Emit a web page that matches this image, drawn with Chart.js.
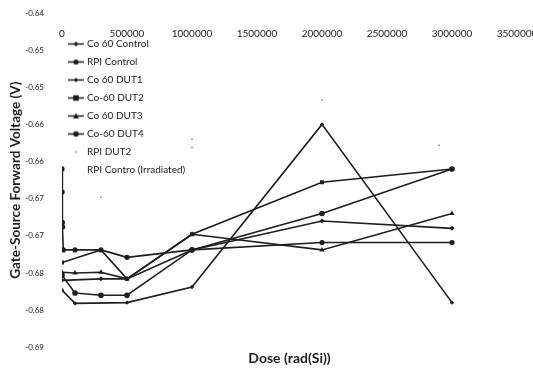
<!DOCTYPE html>
<html><head><meta charset="utf-8">
<script src="https://cdn.jsdelivr.net/npm/chart.js@4.4.0/dist/chart.umd.min.js"></script>
<style>html,body{margin:0;padding:0;background:#fff}#wrap{width:533px;height:370px;position:relative}</style>
</head><body><div id="wrap"><canvas id="c"></canvas></div>
<script>
// ---- data ----
const xTickValues = [0, 500000, 1000000, 1500000, 2000000, 2500000, 3000000, 3500000];
const yTickValues = [-0.64, -0.645, -0.65, -0.655, -0.66, -0.665, -0.67, -0.675, -0.68, -0.685];
const yTickLabels = ['-0.64', '-0.65', '-0.65', '-0.66', '-0.66', '-0.67', '-0.67', '-0.68', '-0.68', '-0.69'];
const seriesNames = ['Co 60 Control', 'RPI Control', 'Co 60 DUT1', 'Co-60 DUT2', 'Co 60 DUT3', 'Co-60 DUT4', 'RPI DUT2', 'RPI Contro (Irradiated)'];

const co60ControlX = [0, 300000, 500000, 1000000, 2000000, 3000000];
const co60ControlY = [-0.6760, -0.6758, -0.6758, -0.6719, -0.6680, -0.6690];

const rpiControlX = [0, 1000, 3000, 5000, 10000, 100000, 300000, 500000, 1000000, 2000000, 3000000];
const rpiControlY = [-0.6610, -0.6641, -0.6682, -0.6688, -0.6719, -0.6719, -0.6719, -0.6729, -0.6719, -0.6709, -0.6709];

const co60Dut1X = [0, 100000, 500000, 1000000, 2000000, 3000000];
const co60Dut1Y = [-0.6773, -0.6791, -0.6790, -0.6769, -0.6550, -0.6790];

const co60Dut2X = [0, 300000, 500000, 1000000, 2000000, 3000000];
const co60Dut2Y = [-0.6736, -0.6719, -0.6758, -0.6698, -0.6628, -0.6610];

const co60Dut3X = [0, 100000, 300000, 500000, 1000000, 2000000, 3000000];
const co60Dut3Y = [-0.6749, -0.6750, -0.6749, -0.6758, -0.6698, -0.6719, -0.6670];

const co60Dut4X = [0, 100000, 300000, 500000, 1000000, 2000000, 3000000];
const co60Dut4Y = [-0.6753, -0.6777, -0.6780, -0.6780, -0.6719, -0.6670, -0.6610];

const rpiDut2X = [300000, 1000000, 1000000, 2000000, 2900000];
const rpiDut2Y = [-0.6648, -0.6570, -0.6581, -0.6517, -0.6578];

const rpiIrrX = [];
const rpiIrrY = [];

// ---- build ----
const pts = (xs, ys) => xs.map((x, i) => ({x: x, y: ys[i]}));
const ink = '#1e1e1e';
const FONT = 'Lato, "Open Sans", sans-serif';

function icon(style, radius, line, color) {
  const c = document.createElement('canvas');
  c.width = 16; c.height = 9;
  const g = c.getContext('2d');
  g.strokeStyle = color; g.fillStyle = color; g.lineWidth = 1.5;
  if (line) { g.beginPath(); g.moveTo(0, 4.5); g.lineTo(16, 4.5); g.stroke(); }
  const cx = 8, cy = 4.5, r = radius;
  g.beginPath();
  if (style === 'circle') { g.arc(cx, cy, r, 0, Math.PI * 2); }
  else if (style === 'rect') { g.rect(cx - r, cy - r, 2 * r, 2 * r); }
  else if (style === 'rectRot') { g.moveTo(cx, cy - r); g.lineTo(cx + r, cy); g.lineTo(cx, cy + r); g.lineTo(cx - r, cy); g.closePath(); }
  else if (style === 'triangle') { g.moveTo(cx, cy - r); g.lineTo(cx + r, cy + r * 0.8); g.lineTo(cx - r, cy + r * 0.8); g.closePath(); }
  if (r > 0) g.fill();
  return c;
}

const styles = [
  {d: pts(co60ControlX, co60ControlY), ps: 'rectRot', r: 2.5, line: true, color: ink},
  {d: pts(rpiControlX, rpiControlY), ps: 'circle', r: 2.6, line: true, color: ink},
  {d: pts(co60Dut1X, co60Dut1Y), ps: 'rectRot', r: 2.2, line: true, color: ink},
  {d: pts(co60Dut2X, co60Dut2Y), ps: 'rect', r: 2.8, line: true, color: ink},
  {d: pts(co60Dut3X, co60Dut3Y), ps: 'triangle', r: 3, line: true, color: ink},
  {d: pts(co60Dut4X, co60Dut4Y), ps: 'circle', r: 2.8, line: true, color: ink},
  {d: pts(rpiDut2X, rpiDut2Y), ps: 'circle', r: 1, line: false, color: '#9a9a9a'},
  {d: pts(rpiIrrX, rpiIrrY), ps: 'circle', r: 0, line: false, color: 'rgba(0,0,0,0)'}
];

const icons = styles.map(s => icon(s.ps, s.r, s.line, s.color));

const datasets = styles.map((s, i) => ({
  label: seriesNames[i],
  data: s.d,
  showLine: s.line,
  borderColor: s.color,
  backgroundColor: s.color,
  borderWidth: 1.6,
  pointStyle: s.ps,
  pointRadius: s.r,
  pointBorderWidth: 0,
  tension: 0
}));

new Chart(document.getElementById('c'), {
  type: 'scatter',
  data: {datasets: datasets},
  options: {
    responsive: true,
    maintainAspectRatio: false,
    animation: false,
    layout: {padding: {top: 13, right: 16, left: 8, bottom: 0}},
    plugins: {
      tooltip: {enabled: false},
      legend: {
        position: 'chartArea',
        align: 'start',
        title: {display: true, text: '', font: {size: 10}, padding: {top: 0, bottom: 19}},
        labels: {
          usePointStyle: true,
          pointStyleWidth: 12,
          padding: 8,
          color: ink,
          font: {family: FONT, size: 10},
          generateLabels: (chart) => {
            const items = Chart.defaults.plugins.legend.labels.generateLabels(chart);
            items.forEach((it, i) => { it.pointStyle = icons[i]; });
            return items;
          }
        }
      }
    },
    scales: {
      x: {
        type: 'linear',
        position: {y: -0.6415},
        min: 0, max: 3500000,
        afterBuildTicks: (s) => { s.ticks = xTickValues.map(v => ({value: v})); },
        afterFit: (s) => { s.height = 0; s.paddingLeft = 0; s.paddingRight = 0; },
        grid: {display: false, drawTicks: false},
        border: {display: false},
        ticks: {color: ink, padding: 4, maxRotation: 0, autoSkip: false, font: {family: FONT, size: 10},
          callback: (v) => String(v)}
      },
      xt: {
        type: 'linear',
        position: 'bottom',
        axis: 'x',
        min: 0, max: 3500000,
        grid: {display: false, drawTicks: false},
        border: {display: false},
        ticks: {display: false},
        title: {display: true, text: 'Dose (rad(Si))', color: ink, font: {family: FONT, size: 14, weight: 'bold'}, padding: {top: 3, bottom: 3}}
      },
      y: {
        type: 'linear',
        position: 'left',
        min: -0.685, max: -0.64,
        afterBuildTicks: (s) => { s.ticks = yTickValues.map(v => ({value: v})); },
        afterFit: (s) => { s.width = 54; s.paddingTop = 0; s.paddingBottom = 0; },
        grid: {display: false, drawTicks: false},
        border: {display: false},
        ticks: {color: ink, padding: 18, font: {family: FONT, size: 8},
          callback: (v, i) => yTickLabels[i]},
        title: {display: true, text: 'Gate-Source Forward Voltage (V)', color: ink, font: {family: FONT, size: 13.5, weight: 'bold'}, padding: {top: 0, bottom: 0}}
      }
    }
  }
});
</script>
</body></html>
